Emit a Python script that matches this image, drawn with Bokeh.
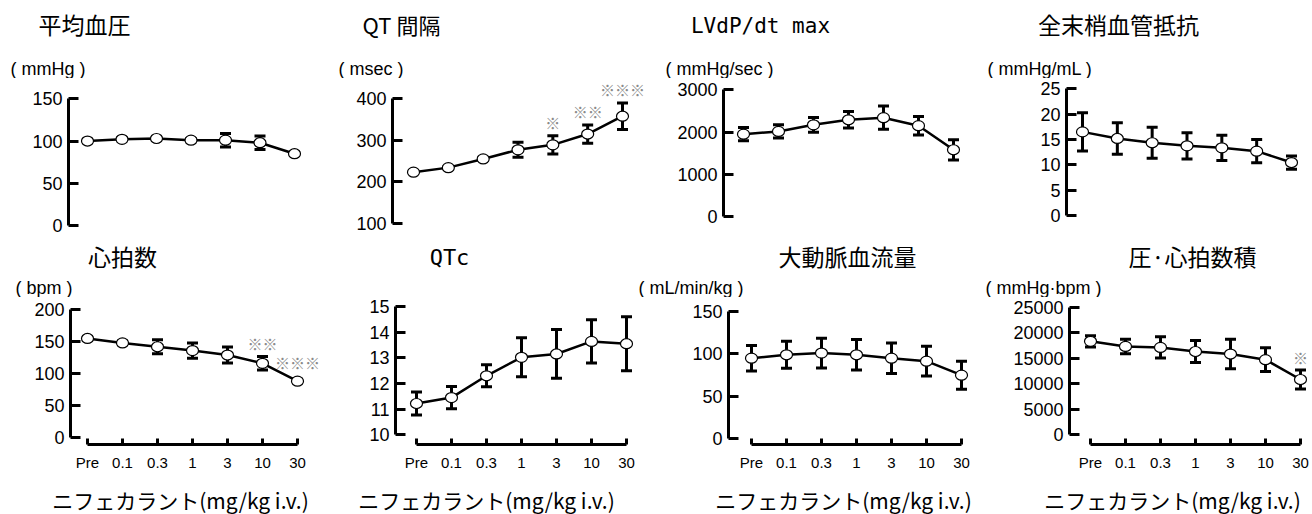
from bokeh.plotting import figure
from bokeh.models import ColumnDataSource, FixedTicker, Whisker, TeeHead, Label, Range1d
from bokeh.layouts import row, column
from bokeh.embed import file_html
from bokeh.resources import INLINE

# ---------------- data ----------------
doses = ["Pre", "0.1", "0.3", "1", "3", "10", "30"]
xlabel = "ニフェカラント(mg/kg i.v.)"

titles = ["平均血圧", "QT 間隔", "LVdP/dt max", "全末梢血管抵抗",
          "心拍数", "QTc", "大動脈血流量", "圧·心拍数積"]
units = ["( mmHg )", "( msec )", "( mmHg/sec )", "( mmHg/mL )",
         "( bpm )", "", "( mL/min/kg )", "( mmHg·bpm )"]

map_mean = [100, 102, 103, 101, 101, 98, 85]
map_err = [2, 2, 2, 2, 8, 8, 2]
map_ticks = [0, 50, 100, 150]
map_sig = ["", "", "", "", "", "", ""]

qt_mean = [223, 234, 255, 277, 289, 315, 358]
qt_err = [3, 3, 4, 18, 22, 22, 32]
qt_ticks = [100, 200, 300, 400]
qt_sig = ["", "", "", "", "※", "※※", "※※※"]

lv_mean = [1950, 2015, 2170, 2290, 2340, 2150, 1580]
lv_err = [155, 155, 175, 195, 275, 220, 240]
lv_ticks = [0, 1000, 2000, 3000]
lv_sig = ["", "", "", "", "", "", ""]

tpr_mean = [16.5, 15.2, 14.35, 13.75, 13.35, 12.7, 10.45]
tpr_err = [3.75, 3.1, 3.05, 2.6, 2.5, 2.3, 1.3]
tpr_ticks = [0, 5, 10, 15, 20, 25]
tpr_sig = ["", "", "", "", "", "", ""]

hr_mean = [155, 148, 142, 136, 129, 116, 88]
hr_err = [3, 3, 11, 12, 12.5, 10.5, 3]
hr_ticks = [0, 50, 100, 150, 200]
hr_sig = ["", "", "", "", "", "※※", "※※※"]

qtc_mean = [11.22, 11.45, 12.3, 13.02, 13.15, 13.64, 13.55]
qtc_err = [0.45, 0.43, 0.43, 0.76, 0.95, 0.84, 1.05]
qtc_ticks = [10, 11, 12, 13, 14, 15]
qtc_sig = ["", "", "", "", "", "", ""]

abf_mean = [95, 99, 101, 99, 95, 91.5, 75]
abf_err = [15, 16, 17.5, 18, 18, 17.5, 16.5]
abf_ticks = [0, 50, 100, 150]
abf_sig = ["", "", "", "", "", "", ""]

rpp_mean = [18300, 17300, 17100, 16300, 15800, 14700, 10800]
rpp_err = [1100, 1430, 2100, 2170, 2900, 2330, 1850]
rpp_ticks = [0, 5000, 10000, 15000, 20000, 25000]
rpp_sig = ["", "", "", "", "", "", "※"]

series = [
    (map_mean, map_err, map_ticks, map_sig),
    (qt_mean, qt_err, qt_ticks, qt_sig),
    (lv_mean, lv_err, lv_ticks, lv_sig),
    (tpr_mean, tpr_err, tpr_ticks, tpr_sig),
    (hr_mean, hr_err, hr_ticks, hr_sig),
    (qtc_mean, qtc_err, qtc_ticks, qtc_sig),
    (abf_mean, abf_err, abf_ticks, abf_sig),
    (rpp_mean, rpp_err, rpp_ticks, rpp_sig),
]

# ---------------- layout (screen pixel anchors) ----------------
TOTAL_W = 1312
col_edges = [[0, 330, 660, 980, TOTAL_W], [0, 330, 635, 980, TOTAL_W]]
foot_edges = [0, 330, 660, 980, TOTAL_W]
head_geom = [(0, 78), (240, 297)]
plot_geom = [dict(top=78, fbot=240, bottom=240), dict(top=297, fbot=444, bottom=486)]
foot_geom = (486, 514)

x_anch = [(68, 87, 294), (392, 413, 622), (723, 743, 953), (1066, 1082, 1291),
          (70, 87, 297), (395, 416, 626), (728, 751, 961), (1069, 1090, 1300)]
y_anch = [(0, 225, 150, 98.3), (100, 222.7, 400, 98.3), (0, 216, 3000, 89.3), (0, 215, 25, 88.3),
          (0, 436.7, 200, 309.3), (10, 434.3, 15, 306), (0, 438.3, 150, 311), (0, 434, 25000, 306.7)]
title_pos = [(84, 23), (401, 23), (760, 25), (1118, 23),
             (122, 255), (449, 257), (847, 255), (1192, 255)]
title_font = ["Noto Sans CJK JP", "Noto Sans CJK JP", "DejaVu Sans Mono", "Noto Sans CJK JP",
              "Noto Sans CJK JP", "DejaVu Sans Mono", "Noto Sans CJK JP", "Noto Sans CJK JP"]
title_size = ["23px", "22px", "21px", "23px", "23px", "22px", "23px", "23px"]
unit_pos = [(10, 68), (338, 68), (665, 68), (987, 68),
            (15, 287), (0, 0), (638, 287), (985, 287)]
xlabel_pos = [180, 486, 843, 1172]
xlabel_y = 499

JP = "Noto Sans CJK JP"
SANS = "Liberation Sans"


def blank(w, h):
    f = figure(width=w, height=h, x_range=Range1d(0, w), y_range=Range1d(0, h),
               output_backend="svg", toolbar_location=None,
               x_axis_location=None, y_axis_location=None,
               min_border_left=0, min_border_right=0, min_border_top=0, min_border_bottom=0)
    f.outline_line_color = None
    f.grid.visible = False
    return f


heads = [[], []]
plots = [[], []]
for i, (mean, err, ticks, sig) in enumerate(series):
    r, c = divmod(i, 4)
    figL, figR = col_edges[r][c], col_edges[r][c + 1]

    # ---- header: title + unit ----
    hT, hB = head_geom[r]
    h = blank(figR - figL, hB - hT)
    tx, ty = title_pos[i]
    h.add_layout(Label(x=tx - figL, y=hB - ty, x_units="screen", y_units="screen",
                       text=titles[i], text_align="center", text_baseline="middle",
                       text_font=title_font[i], text_font_size=title_size[i], text_color="black"))
    if units[i]:
        ux, uy = unit_pos[i]
        h.add_layout(Label(x=ux - figL, y=hB - uy, x_units="screen", y_units="screen",
                           text=units[i], text_align="left", text_baseline="middle",
                           text_font=SANS, text_font_size="18px", text_color="black"))
    heads[r].append(h)

    # ---- plot ----
    g = plot_geom[r]
    ax_x, x0px, x6px = x_anch[i]
    L, R = ax_x, figR
    T, B = g["top"], g["fbot"]
    sx = (x6px - x0px) / 6.0
    xs = (L - x0px) / sx
    xe = (R - x0px) / sx
    va, pa, vb, pb = y_anch[i]
    sy = (pb - pa) / (vb - va)
    ys = va + (B - pa) / sy
    ye = va + (T - pa) / sy

    p = figure(width=figR - figL, height=g["bottom"] - g["top"],
               x_range=Range1d(xs, xe), y_range=Range1d(ys, ye),
               output_backend="svg", toolbar_location=None,
               x_axis_location=("below" if r == 1 else None),
               min_border_left=L - figL, min_border_right=0,
               min_border_top=0, min_border_bottom=g["bottom"] - B)
    p.outline_line_color = None
    p.grid.visible = False

    ya = p.yaxis[0]
    ya.ticker = FixedTicker(ticks=ticks)
    ya.bounds = (ticks[0], ticks[-1])
    ya.axis_line_width = 3
    ya.major_tick_line_width = 3
    ya.major_tick_in = 10
    ya.major_tick_out = 0
    ya.minor_tick_in = 0
    ya.minor_tick_out = 0
    ya.major_label_standoff = 6
    ya.major_label_text_font = SANS
    ya.major_label_text_font_size = "18px"
    ya.major_label_text_color = "black"

    if r == 1:
        xa = p.xaxis[0]
        xa.ticker = FixedTicker(ticks=list(range(len(doses))))
        xa.major_label_overrides = {k: d for k, d in enumerate(doses)}
        xa.bounds = (0, len(doses) - 1)
        xa.axis_line_width = 3
        xa.major_tick_line_width = 3
        xa.major_tick_in = 6
        xa.major_tick_out = 0
        xa.minor_tick_in = 0
        xa.minor_tick_out = 0
        xa.major_label_standoff = 9
        xa.major_label_text_font = SANS
        xa.major_label_text_font_size = "15px"
        xa.major_label_text_color = "black"

    src = ColumnDataSource(dict(x=list(range(len(doses))), y=mean,
                                upper=[m + e for m, e in zip(mean, err)],
                                lower=[m - e for m, e in zip(mean, err)]))
    wh = Whisker(base="x", upper="upper", lower="lower", source=src,
                 line_width=3, line_color="black", level="underlay",
                 upper_head=TeeHead(size=11, line_width=3, line_color="black"),
                 lower_head=TeeHead(size=11, line_width=3, line_color="black"))
    p.add_layout(wh)
    p.line("x", "y", source=src, line_width=2.5, line_color="black")
    p.ellipse("x", "y", source=src, width=12, height=10,
              width_units="screen", height_units="screen",
              fill_color="white", line_color="black", line_width=1.2)

    for k, s in enumerate(sig):
        if s:
            err_px = abs(err[k] * sy)
            off = max(err_px, 6) + 13
            p.add_layout(Label(x=k, y=mean[k], text=s, x_units="data", y_units="data",
                               y_offset=off, text_align="center", text_baseline="middle",
                               text_font=JP, text_font_size="15px", text_color="#8a8a8a"))
    plots[r].append(p)

# ---- footer: x-axis titles ----
fT, fB = foot_geom
foots = []
for c in range(4):
    fL, fR = foot_edges[c], foot_edges[c + 1]
    f = blank(fR - fL, fB - fT)
    f.add_layout(Label(x=xlabel_pos[c] - fL, y=fB - xlabel_y, x_units="screen", y_units="screen",
                       text=xlabel, text_align="center", text_baseline="middle",
                       text_font=JP, text_font_size="21px", text_color="black"))
    foots.append(f)

layout = column(row(*heads[0], spacing=0), row(*plots[0], spacing=0),
                row(*heads[1], spacing=0), row(*plots[1], spacing=0),
                row(*foots, spacing=0), spacing=0)
open("out.html", "w").write(file_html(layout, INLINE))
